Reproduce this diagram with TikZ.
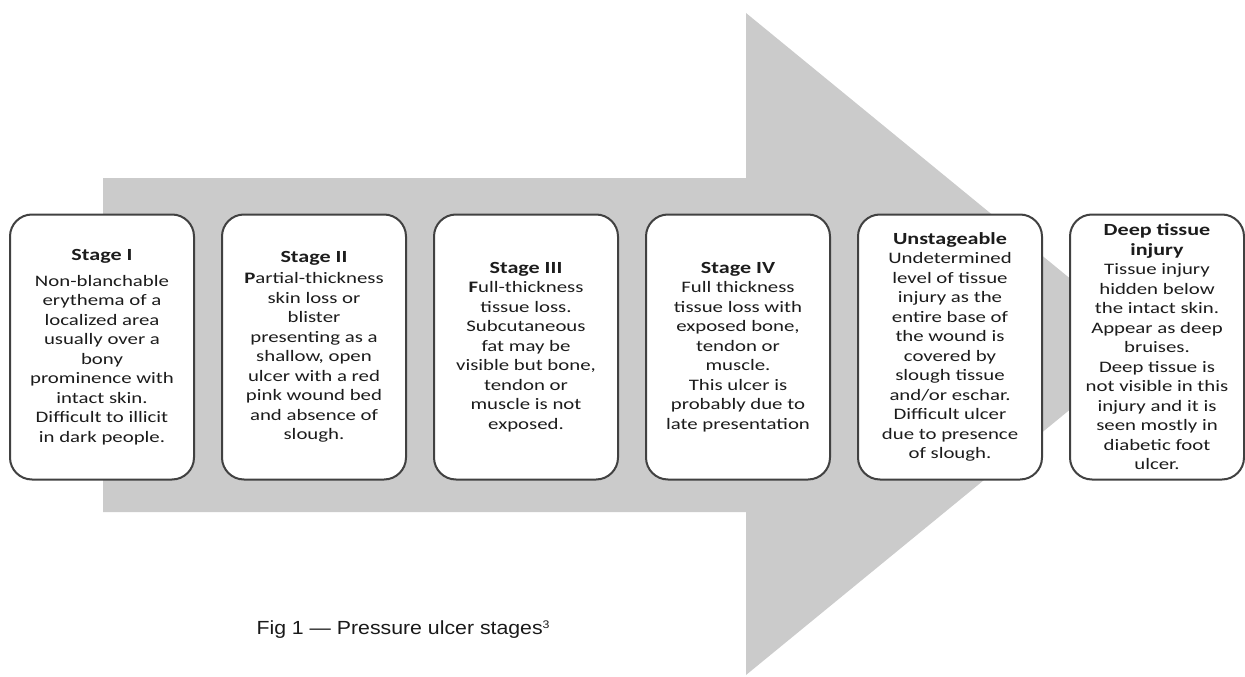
\documentclass[tikz,border=0pt]{standalone}
\usepackage{fontspec}
\usepackage{tikz}
\usetikzlibrary{matrix}

\newfontfamily\kastenfont[FakeStretch=1.3]{Carlito}
\newfontfamily\unterschrift[FakeStretch=1.12]{Liberation Sans}
\newcommand\Titel[1]{{\fontsize{17}{19.5}\selectfont\bfseries #1}}
\newcommand\Hoch[1]{\raisebox{6pt}{\fontsize{11}{11}\selectfont #1}}

\definecolor{pfeilgrau}{RGB}{203,203,203}
\definecolor{rahmengrau}{RGB}{65,65,65}
\definecolor{textgrau}{RGB}{28,28,28}

\begin{document}
\begin{tikzpicture}[%show background rectangle,
    x=1pt, y=-1pt, % ein Pixel des Bildes
    font=\kastenfont\fontsize{16}{19.5}\selectfont
    ]
        \useasboundingbox (0,0) rectangle (1245,677);

        \tikzset{
            Stufe/.style={draw=rahmengrau, line width=2pt, fill=white,
                rounded corners=22pt, minimum width=#1, minimum height=265pt,
                inner sep=0pt, align=center, text=textgrau}, % Kasten je Stadium
            Legende/.style={font=\unterschrift\fontsize{19}{22}\selectfont,
                anchor=base west, text=black!90} % Bildunterschrift
        }

        % Pfeil im Hintergrund
        \fill[pfeilgrau] (103,178) -- (746,178) -- (746,13) -- (1150,344)
                         -- (746,675) -- (746,512) -- (103,512) -- cycle;

        % Raster fuer die Kaesten
        \matrix (S) at (632,347) [
            matrix of nodes, nodes in empty cells,
            inner sep=0pt, outer sep=0pt,
            column sep=212pt,
            nodes={minimum width=0pt, minimum height=0pt, inner sep=0pt}
        ]
        {
            &&&&& \\
        };

        % Stadien
        \node[Stufe=184pt] (St1) at (S-1-1) {\Titel{Stage I}\\[6pt]
            Non-blanchable\\ erythema of a\\ localized area\\ usually over a\\
            bony\\ prominence with\\ intact skin.\\ Difficult to illicit\\
            in dark people.};
        \node[Stufe=184pt] (St2) at (S-1-2) {\Titel{Stage II}\\[2pt]
            \textbf{P}artial-thickness\\ skin loss or\\ blister\\
            presenting as a\\ shallow, open\\ ulcer with a red\\
            pink wound bed\\ and absence of\\ slough.};
        \node[Stufe=184pt] (St3) at (S-1-3) {\Titel{Stage III}\\
            \textbf{F}ull-thickness\\ tissue loss.\\ Subcutaneous\\
            fat may be\\ visible but bone,\\ tendon or\\ muscle is not\\
            exposed.};
        \node[Stufe=184pt] (St4) at (S-1-4) {\Titel{Stage IV}\\
            Full thickness\\ tissue loss with\\ exposed bone,\\ tendon or\\
            muscle.\\ This ulcer is\\ probably due to\\ late presentation};
        \node[Stufe=184pt] (St5) at (S-1-5) {\Titel{Unstageable}\\
            Undetermined\\ level of tissue\\ injury as the\\ entire base of\\
            the wound is\\ covered by\\ slough tissue\\ and/or eschar.\\
            Difficult ulcer\\ due to presence\\ of slough.};
        \node[Stufe=174pt, xshift=-5pt] (St6) at (S-1-6) {\Titel{Deep tissue}\\
            \Titel{injury}\\ Tissue injury\\ hidden below\\ the intact skin.\\
            Appear as deep\\ bruises.\\ Deep tissue is\\ not visible in this\\
            injury and it is\\ seen mostly in\\ diabetic foot\\ ulcer.};

        % Bildunterschrift
        \node[Legende] (Fig) at (253,634) {Fig 1 — Pressure ulcer stages\Hoch{3}};
    \end{tikzpicture}
\end{document}
